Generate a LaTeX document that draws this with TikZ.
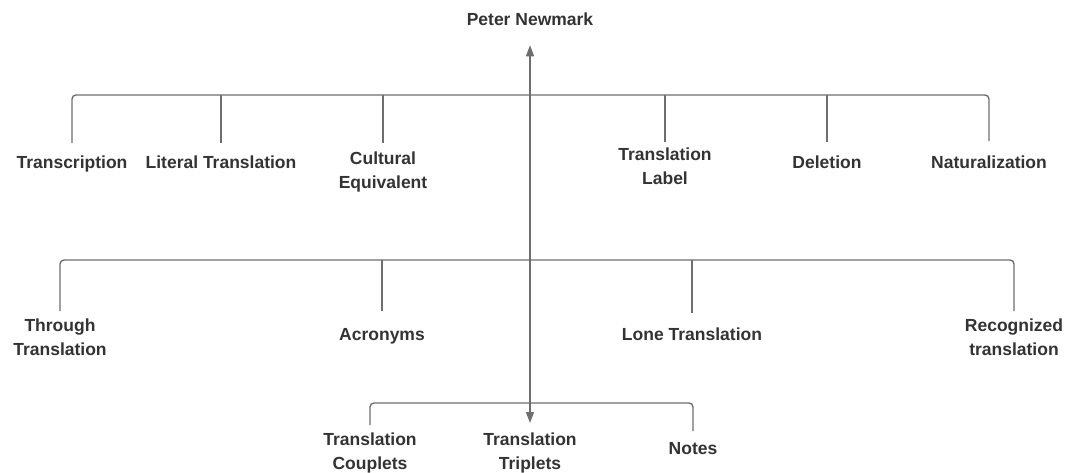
\documentclass[tikz,border=0pt]{standalone}
\usepackage{fontspec}
\setmainfont{Liberation Sans}
\usetikzlibrary{arrows.meta}
\definecolor{inkgray}{HTML}{333333}
\definecolor{linegray}{HTML}{6E6E6E}
\tikzset{
  lbl/.style={anchor=north, inner sep=0pt, align=center, text=inkgray,
    font=\bfseries\fontsize{17.5}{23.5}\selectfont},
  link/.style={draw=linegray, line width=1.4pt},
  bus/.style={link, rounded corners=4pt},
  tip/.style={link, -{Triangle[length=11pt,width=8pt]}, fill=linegray}
}
\begin{document}
\begin{tikzpicture}[x=1pt,y=-1pt]
\useasboundingbox (0,0) rectangle (1066,472);

% root
\node[lbl] (pn) at (530,13) {Peter Newmark};

% first level
\node[lbl] (transcription) at (72,156)  {Transcription};
\node[lbl] (literal)       at (221,156) {Literal Translation};
\node[lbl] (cultural)      at (383,152) {Cultural\\Equivalent};
\node[lbl] (tlabel)        at (665,148) {Translation\\Label};
\node[lbl] (deletion)      at (827,156) {Deletion};
\node[lbl] (natural)       at (989,156) {Naturalization};

% second level
\node[lbl] (through)    at (60,319)   {Through\\Translation};
\node[lbl] (acronyms)   at (382,328)  {Acronyms};
\node[lbl] (lone)       at (692,328)  {Lone Translation};
\node[lbl] (recognized) at (1014,319) {Recognized\\translation};

% third level
\node[lbl] (couplets) at (370,433) {Translation\\Couplets};
\node[lbl] (triplets) at (530,433) {Translation\\Triplets};
\node[lbl] (notes)    at (693,442) {Notes};

% junctions on the trunk
\coordinate (j1) at (530,95);
\coordinate (j2) at (530,260);
\coordinate (j3) at (530,403);

% trunk with arrows to the root and to the triplets
\draw[tip, shorten >=19pt] (j3) -- (pn.south);
\draw[tip, shorten >=10pt] (j3) -- (triplets.north);

% first bus
\draw[bus] ([yshift=13pt]transcription.north) -- (transcription.north |- j1)
  -- (natural.north |- j1) -- ([yshift=15pt]natural.north);
\draw[link, shorten >=13pt] (literal.north |- j1) -- (literal.north);
\draw[link, shorten >=9pt]  (cultural.north |- j1) -- (cultural.north);
\draw[link, shorten >=6pt]  (tlabel.north |- j1) -- (tlabel.north);
\draw[link, shorten >=14pt] (deletion.north |- j1) -- (deletion.north);

% second bus
\draw[bus] ([yshift=8pt]through.north) -- (through.north |- j2)
  -- (recognized.north |- j2) -- ([yshift=8pt]recognized.north);
\draw[link, shorten >=17pt] (acronyms.north |- j2) -- (acronyms.north);
\draw[link, shorten >=15pt] (lone.north |- j2) -- (lone.north);

% third bus
\draw[bus] ([yshift=8pt]couplets.north) -- (couplets.north |- j3)
  -- (notes.north |- j3) -- ([yshift=11pt]notes.north);
\end{tikzpicture}
\end{document}
